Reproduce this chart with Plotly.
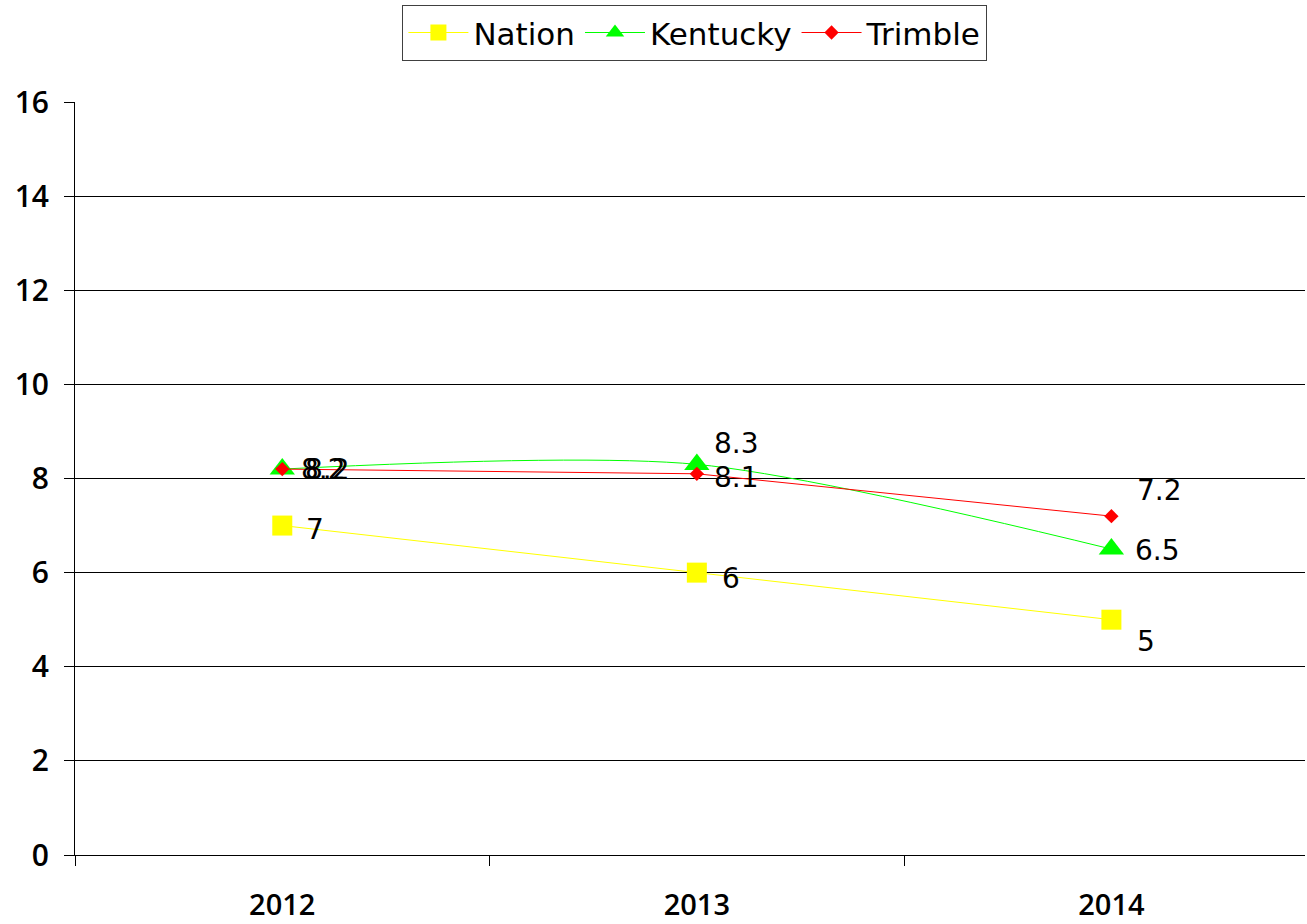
import plotly.graph_objects as go

years = ["2012", "2013", "2014"]
nation = [7, 6, 5]
kentucky = [8.2, 8.3, 6.5]
trimble = [8.2, 8.1, 7.2]

y_ticks = [0, 2, 4, 6, 8, 10, 12, 14, 16]

# label offsets (pixels) for data labels: (xshift, yshift)
nation_off = [(22, -4), (23, -6), (24, -22)]
kentucky_off = [(21, 0), (15, 21), (22, -1)]
trimble_off = [(17, 0), (15, -4), (24, 26)]

fig = go.Figure()

fig.add_trace(go.Scatter(
    x=years, y=nation, name="Nation", mode="lines+markers",
    line=dict(color="#FFFF00", width=1),
    marker=dict(symbol="square", size=20, color="#FFFF00"),
))
fig.add_trace(go.Scatter(
    x=years, y=kentucky, name="Kentucky", mode="lines+markers",
    line=dict(color="#00FF00", width=1, shape="spline", smoothing=0.8),
    marker=dict(symbol="triangle-up", size=22, color="#00FF00"),
))
fig.add_trace(go.Scatter(
    x=years, y=trimble, name="Trimble", mode="lines+markers",
    line=dict(color="#FF0000", width=1),
    marker=dict(symbol="diamond", size=11, color="#FF0000"),
))

label_font = dict(family="DejaVu Sans", size=28, color="#000000")
for vals, offs in ((nation, nation_off), (kentucky, kentucky_off), (trimble, trimble_off)):
    for i, (v, (dx, dy)) in enumerate(zip(vals, offs)):
        fig.add_annotation(
            x=i, y=v, xref="x", yref="y", text=f"{v:g}", showarrow=False,
            xanchor="left", yanchor="middle", xshift=dx, yshift=dy,
            font=label_font,
        )

fig.update_layout(
    width=1307, height=924,
    margin=dict(l=75, r=2, t=102, b=69, autoexpand=False),
    paper_bgcolor="white", plot_bgcolor="white",
    showlegend=True,
    legend=dict(
        orientation="h", x=0.504, xanchor="center", y=1.129, yanchor="top",
        bordercolor="#404040", borderwidth=1, bgcolor="white",
        font=dict(family="DejaVu Sans", size=31, color="#000000"),
        itemwidth=60, tracegroupgap=0,
    ),
    xaxis=dict(
        type="category", range=[-0.5, 2.467], automargin=False,
        tickson="boundaries", ticks="outside", ticklen=10, tickcolor="#000000",
        showline=True, linecolor="#000000", linewidth=1,
        showgrid=False, ticklabelstandoff=24,
        tickfont=dict(family="Open Sans", size=29, color="#000000", weight=600),
    ),
    yaxis=dict(
        range=[0, 16], tickvals=y_ticks, ticks="outside", ticklen=10, automargin=False,
        tickcolor="#000000", showline=True, linecolor="#000000", linewidth=1,
        showgrid=True, gridcolor="#000000", gridwidth=1, zeroline=False,
        ticklabelstandoff=9,
        tickfont=dict(family="Open Sans", size=30, color="#000000", weight=600),
    ),
)

fig.write_html(
    "out.html",
    config={"displayModeBar": False},
    post_script="document.body.style.margin='0';document.body.style.padding='0';document.body.style.overflow='hidden';",
)
